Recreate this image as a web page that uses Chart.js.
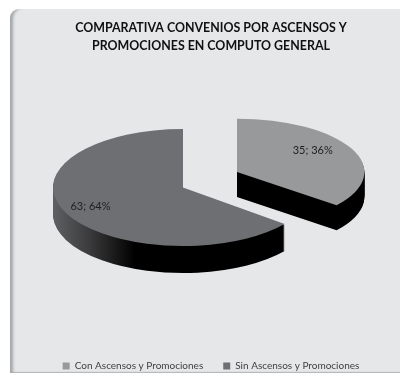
<!DOCTYPE html>
<html>
<head>
<meta charset="utf-8">
<style>
  html, body { margin:0; padding:0; background:#fff; }
  #wrap { position:relative; width:400px; height:375px; overflow:hidden; }
  #panel {
    position:absolute; left:10px; top:9px; width:400px; height:364px;
    background:#e6e7e9; border-top-left-radius:9px;
    box-shadow: inset 4px 0 3px -1px #a4a6a9, inset 0 -2px 1px -1px #b5b7b9, inset 0 2px 2px -1px #f4f4f5;
  }
  canvas { position:absolute; left:0; top:0; }
</style>
</head>
<body>
<div id="wrap">
  <div id="panel"></div>
  <canvas id="pie" width="400" height="375"></canvas>
</div>
<script src="https://cdn.jsdelivr.net/npm/chart.js@4/dist/chart.umd.min.js"></script>
<script>
const categories = ['Con Ascensos y Promociones', 'Sin Ascensos y Promociones'];
const values = [35, 63];
const topColors = ['#98999b', '#6e6f72'];
const titleLines = ['COMPARATIVA CONVENIOS POR ASCENSOS Y', 'PROMOCIONES EN COMPUTO GENERAL'];

// Fake 3D: each slice is squashed into an ellipse and stacked over its own wall
const placing = [
  { cx: 237, cy: 172, sx: 0.98, sy: 0.41, depth: 25, label: 0.66, lift: 6 },
  { cx: 183, cy: 187.5, sx: 1, sy: 0.45, depth: 27, label: 0.79, lift: 1 }
];

function withSlice(ctx, arc, i, dy, paint){
  const p = placing[i];
  ctx.save();
  ctx.translate(p.cx, p.cy + dy);
  ctx.scale(p.sx, p.sy);
  ctx.translate(-arc.x, -arc.y);
  paint();
  ctx.restore();
}

const pie3d = {
  id: 'pie3d',
  beforeDatasetDraw(chart, args){
    const ctx = chart.ctx;
    const arcs = args.meta.data;
    arcs.forEach((arc, i) => {
      const normal = arc.options;
      // wall: black, fading to grey towards the far left of the big slice
      let wall = '#000';
      if(i === 1){
        const g = ctx.createLinearGradient(arc.x - arc.outerRadius, 0, arc.x - arc.outerRadius + 82, 0);
        g.addColorStop(0, '#5f6063');
        g.addColorStop(0.45, '#3a3a3c');
        g.addColorStop(1, '#000');
        wall = g;
      }
      arc.options = Object.assign({}, normal, { backgroundColor: wall });
      for(let k = placing[i].depth; k > 0; k--){
        withSlice(ctx, arc, i, k, () => arc.draw(ctx));
      }
      arc.options = normal;
      withSlice(ctx, arc, i, 0, () => arc.draw(ctx));
    });
    return false; // slices already painted above
  },
  afterDatasetsDraw(chart){
    const ctx = chart.ctx;
    const arcs = chart.getDatasetMeta(0).data;
    const total = values.reduce((a, b) => a + b, 0);
    ctx.save();
    ctx.font = '11px Lato, sans-serif';
    ctx.fillStyle = '#1f1f1f';
    ctx.textAlign = 'center';
    ctx.textBaseline = 'middle';
    arcs.forEach((arc, i) => {
      const p = placing[i];
      const mid = (arc.startAngle + arc.endAngle) / 2;
      const r = arc.outerRadius * p.label;
      const x = p.cx + Math.cos(mid) * r * p.sx;
      const y = p.cy + Math.sin(mid) * r * p.sy - p.lift;
      ctx.fillText(values[i] + '; ' + Math.round(values[i] / total * 100) + '%', x, y);
    });
    ctx.restore();
  }
};

new Chart(document.getElementById('pie').getContext('2d'), {
  type: 'pie',
  data: {
    labels: categories,
    datasets: [{ data: values, backgroundColor: topColors, borderWidth: 0, clip: false }]
  },
  options: {
    responsive: false,
    animation: false,
    radius: 130,
    layout: { padding: { left: 22, top: 19, bottom: -6 } },
    plugins: {
      tooltip: { enabled: false },
      title: {
        display: true,
        text: titleLines,
        color: '#111',
        font: { family: 'Lato, sans-serif', size: 12.4, weight: 'bold', lineHeight: 1.45 },
        padding: 0
      },
      legend: {
        position: 'bottom',
        labels: {
          boxWidth: 7, boxHeight: 7, padding: 20,
          color: '#414042',
          font: { family: 'Lato, sans-serif', size: 10 }
        }
      }
    }
  },
  plugins: [pie3d]
});
</script>
</body>
</html>
